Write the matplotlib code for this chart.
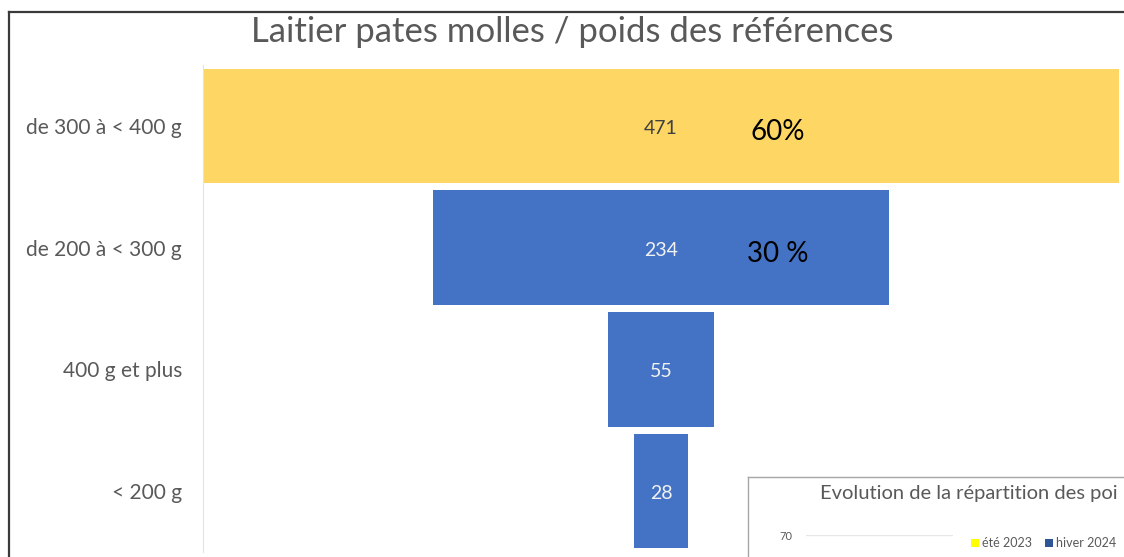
import matplotlib.pyplot as plt
from matplotlib.lines import Line2D
from matplotlib.patches import Patch

plt.rcParams['font.family'] = ['Lato', 'DejaVu Sans']

# funnel data (top to bottom)
categories = ['de 300 à < 400 g', 'de 200 à < 300 g', '400 g et plus', '< 200 g']
counts = [471, 234, 55, 28]
shares = ['60%', '30 %', '', '']
bar_colors = ['#FDD663', '#4472C4', '#4472C4', '#4472C4']
label_colors = ['#404040', '#F2F2F2', '#F2F2F2', '#F2F2F2']

# inset chart bits (cut off by the page)
inset_title = 'Evolution de la répartition des poi'
inset_series = ['été 2023', 'hiver 2024']
inset_colors = ['#FFFF00', '#2F5597']
inset_ticks = [70]

W, H = 1124, 557
fig = plt.figure(figsize=(W / 100, H / 100), dpi=100)
fig.patch.set_facecolor('white')

# page frame, only top and left edges show
fr = dict(transform=fig.transFigure, color='#3a3a3a', linewidth=1.6)
fig.add_artist(Line2D([9 / W, 9 / W], [0, 1 - 12 / H], **fr))
fig.add_artist(Line2D([9 / W, 1], [1 - 12 / H, 1 - 12 / H], **fr))

fig.text(572 / W, 1 - 32 / H, 'Laitier pates molles / poids des références',
         ha='center', va='center', fontsize=25, color='#595959')

# --------------------------------------
# funnel
# --------------------------------------
half = max(counts) / 2
ax = fig.add_axes([203 / W, 5 / H, (1119 - 203) / W, (552 - 65) / H])
ypos = list(range(len(counts)))
lefts = [-c / 2 for c in counts]
ax.barh(ypos, counts, left=lefts, height=0.94, color=bar_colors)
ax.set_xlim(-half, half)
ax.set_ylim(len(counts) - 0.5, -0.5)
ax.set_yticks(ypos)
ax.set_yticklabels(categories, fontsize=15, color='#595959')
ax.tick_params(axis='y', length=0, pad=15)
ax.set_xticks([])
for s in ['top', 'right', 'bottom']:
    ax.spines[s].set_visible(False)
ax.spines['left'].set_color('#e3e3e3')

for y, c, col in zip(ypos, counts, label_colors):
    ax.text(0, y + 0.02, str(c), ha='center', va='center', fontsize=14, color=col)
for y, s in zip(ypos, shares):
    if s:
        ax.text(60, y + 0.05, s, ha='center', va='center', fontsize=20, color='black')

# --------------------------------------
# inset chart overlapping the bottom right
# --------------------------------------
box = fig.add_axes([748 / W, -0.5, 0.6, 0.5 + (H - 477) / H])
box.set_xticks([])
box.set_yticks([])
for s in box.spines.values():
    s.set_color('#a6a6a6')
    s.set_linewidth(1.0)
box.set_zorder(5)
fig.text(820 / W, 1 - 493 / H, inset_title, ha='left', va='center',
         fontsize=14.5, color='#595959', zorder=6)

pa = fig.add_axes([806 / W, (H - 535) / H - 0.2, (953 - 806) / W, 0.2])
pa.set_zorder(6)
pa.patch.set_alpha(0)
pa.set_ylim(0, 70)
pa.set_yticks(inset_ticks)
pa.set_yticklabels([str(t) for t in inset_ticks], fontsize=8, color='#595959')
pa.tick_params(axis='y', length=0, pad=10)
pa.set_xticks([])
pa.grid(axis='y', color='#e6e6e6', linewidth=1)
for s in pa.spines.values():
    s.set_visible(False)

handles = [Patch(facecolor=c, edgecolor='none', label=l) for c, l in zip(inset_colors, inset_series)]
leg = fig.legend(handles=handles, loc='center left', bbox_to_anchor=(960 / W, 1 - 543 / H),
                 ncol=2, frameon=False, fontsize=9, handlelength=0.6, handleheight=0.6,
                 handletextpad=0.3, columnspacing=1.0, labelcolor='#595959')
leg.set_zorder(7)

fig.savefig('out.png', dpi=100, facecolor='white')
